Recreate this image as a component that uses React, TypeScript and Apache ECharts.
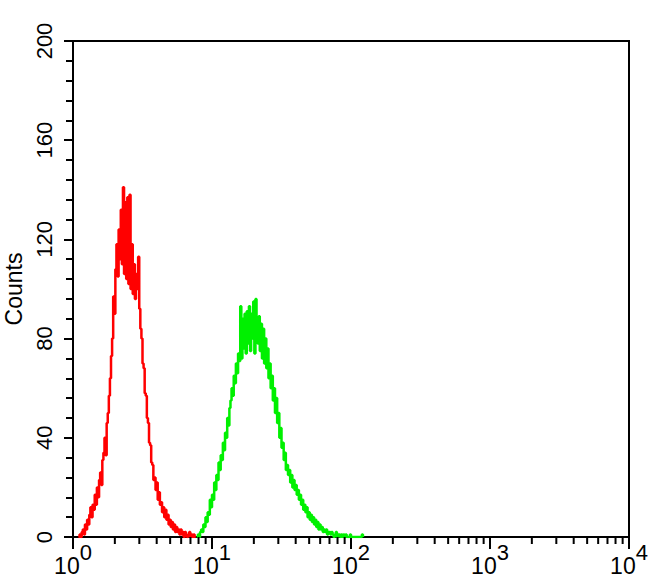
import React, { useEffect, useRef } from "react";
import * as echarts from "echarts";

// Histogram channels: 128 channels per decade over 4 decades (10^0 .. 10^4)
const CH_PER_DECADE = 128;

const RED_START_CH = 5;
const RED_COUNTS = [
  0, 1, 0, 2, 3, 1, 5, 3, 7, 5, 9, 12, 8, 13, 11, 17, 13, 20, 16, 23,
  26, 21, 31, 34, 40, 33, 46, 50, 57, 64, 73, 80, 97, 90, 108, 118, 105, 124, 112, 132,
  110, 141, 106, 135, 104, 137, 102, 138, 100, 118, 98, 110, 96, 106, 100, 113, 92, 84, 80, 70,
  68, 58, 57, 48, 46, 38, 37, 30, 29, 23, 24, 19, 22, 15, 18, 13, 14, 10, 12, 8,
  11, 7, 9, 5, 7, 4, 6, 3, 5, 2, 4, 2, 3, 1, 3, 1, 2, 0, 2, 1,
  0, 1, 2, 0, 1, 0, 1, 0, 0,
];

const GREEN_START_CH = 114;
const GREEN_COUNTS = [
  0, 1, 0, 2, 3, 2, 5, 4, 8, 6, 10, 9, 15, 12, 17, 15, 22, 19, 25, 23,
  30, 27, 33, 31, 38, 35, 42, 40, 48, 45, 52, 55, 60, 57, 65, 62, 70, 66, 74, 71,
  93, 72, 88, 76, 90, 74, 91, 78, 93, 75, 90, 80, 95, 74, 96, 86, 78, 89, 75, 86,
  72, 84, 70, 80, 68, 76, 64, 70, 60, 65, 55, 60, 50, 56, 46, 50, 40, 44, 36, 38,
  31, 34, 27, 29, 25, 27, 22, 25, 20, 23, 19, 21, 17, 19, 15, 17, 13, 15, 11, 13,
  10, 12, 8, 10, 7, 9, 6, 8, 5, 7, 4, 6, 3, 5, 3, 4, 2, 3, 2, 3,
  1, 2, 2, 1, 2, 1, 0, 1, 2, 0, 1, 1, 0, 1, 0, 1, 0, 1, 0, 0,
  0, 1, 0, 0, 0, 0, 0, 0, 0, 0, 0, 0, 1, 0,
];

const Y_TICKS = [0, 40, 80, 120, 160, 200];
const X_DECADES = [0, 1, 2, 3];
const X_MINOR_MULTS = [2, 3, 4, 5, 6, 7, 8, 9];

const toSeries = (start: number, counts: number[]) =>
  counts.map((c, i) => [Math.pow(10, (start + i) / CH_PER_DECADE), c]);

const minorX: number[] = [];
X_DECADES.forEach((d) => X_MINOR_MULTS.forEach((m) => minorX.push(m * Math.pow(10, d))));

const FONT = "Liberation Sans, Arial, Helvetica, sans-serif";

export default function App() {
  const ref = useRef<HTMLDivElement>(null);
  useEffect(() => {
    document.body.style.margin = "0";
    const chart = echarts.init(ref.current!, null, { renderer: "svg" });
    chart.setOption({
      animation: false,
      backgroundColor: "#fff",
      grid: {
        left: 73,
        right: 21,
        top: 41,
        bottom: 48,
        outerBoundsMode: "none",
        containLabel: false,
        show: true,
        borderColor: "#000",
        borderWidth: 2,
        backgroundColor: "#fff",
      },
      xAxis: {
        type: "log",
        logBase: 10,
        min: 1,
        max: 10000,
        axisLine: { show: true, lineStyle: { color: "#000", width: 2 } },
        axisTick: { show: true, length: 12, lineStyle: { color: "#000", width: 2 } },
        splitLine: { show: false },
        axisLabel: {
          margin: 4,
          color: "#000",
          fontFamily: FONT,
          formatter: (v: number) => `{b|10}{s|${Math.round(Math.log10(v))}}`,
          rich: {
            b: { fontSize: 23, fontFamily: FONT, color: "#000", verticalAlign: "bottom" },
            s: {
              fontSize: 22,
              fontFamily: FONT,
              color: "#000",
              verticalAlign: "bottom",
              padding: [0, 0, 14, 0],
            },
          },
        },
      },
      yAxis: {
        type: "value",
        min: 0,
        max: 200,
        interval: 40,
        name: "Counts",
        nameLocation: "middle",
        nameRotate: 90,
        nameGap: 44,
        nameTextStyle: { fontSize: 23, fontFamily: FONT, color: "#000" },
        axisLine: { show: true, lineStyle: { color: "#000", width: 2 } },
        axisTick: { show: true, length: 9, lineStyle: { color: "#000", width: 2 } },
        minorTick: { show: true, splitNumber: 5, length: 7, lineStyle: { color: "#000", width: 2 } },
        splitLine: { show: false },
        minorSplitLine: { show: false },
        axisLabel: {
          rotate: 90,
          margin: 18,
          fontSize: 22,
          fontFamily: FONT,
          color: "#000",
          customValues: Y_TICKS,
        },
      },
      series: [
        {
          type: "line",
          step: "end",
          data: toSeries(RED_START_CH, RED_COUNTS),
          showSymbol: false,
          symbol: "none",
          lineStyle: { color: "#ff0000", width: 2.5 },
          z: 2,
        },
        {
          type: "line",
          step: "end",
          data: toSeries(GREEN_START_CH, GREEN_COUNTS),
          showSymbol: false,
          symbol: "none",
          lineStyle: { color: "#00f000", width: 2.5 },
          z: 2,
        },
        {
          type: "custom",
          silent: true,
          clip: false,
          z: 5,
          data: minorX.map((v) => [v, 0]),
          renderItem: (_p: any, api: any) => {
            const pt = api.coord([api.value(0), 0]);
            return {
              type: "line",
              shape: { x1: pt[0], y1: pt[1], x2: pt[0], y2: pt[1] + 7 },
              style: { stroke: "#000", lineWidth: 2 },
            };
          },
        },
      ],
    });
    return () => chart.dispose();
  }, []);
  return <div ref={ref} style={{ width: 650, height: 585 }} />;
}
